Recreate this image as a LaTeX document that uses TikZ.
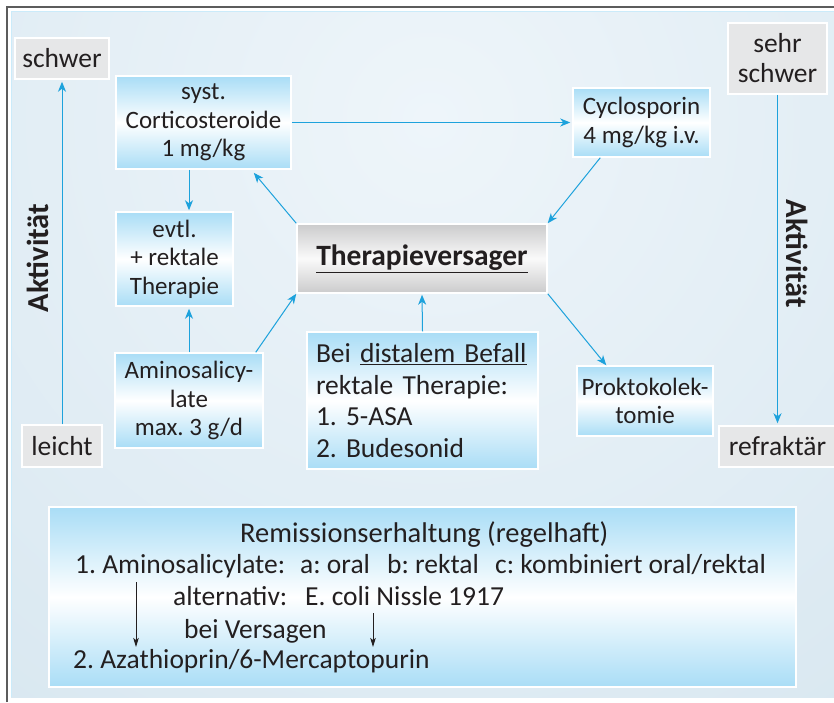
\documentclass[tikz,border=0pt]{standalone}
\usepackage{fontspec}
\setmainfont{Carlito}
\usetikzlibrary{arrows.meta,calc}
\frenchspacing
\definecolor{cblue}{HTML}{A9DDF6}
\definecolor{cgray}{HTML}{E6E7E8}
\definecolor{ctext}{HTML}{231F20}
\definecolor{cline}{HTML}{1DA2DC}
\definecolor{bgin}{HTML}{EEF5FA}
\definecolor{bgout}{HTML}{D3E4EE}
\definecolor{framec}{HTML}{5C5C5C}
\definecolor{tgray}{HTML}{CBCBCC}
\tikzset{
  bluebox/.style={draw=white, line width=1.5pt, top color=cblue, bottom color=cblue, middle color=white,
    text=ctext, align=center, inner sep=0pt, font=\fontsize{25}{28.5}\selectfont},
  graybox/.style={draw=white, line width=1.5pt, fill=cgray, text=ctext, align=center, inner sep=0pt,
    font=\fontsize{27.5}{30}\selectfont},
  arr/.style={draw=cline, line width=1pt, -{Stealth[length=10pt,width=8pt,inset=3pt]}},
  blackarr/.style={draw=ctext, line width=0.9pt, -{Stealth[length=9pt,width=5.5pt,inset=2pt]}},
  remtext/.style={anchor=base west, inner sep=0pt, text=ctext, font=\fontsize{27.5}{31}\selectfont},
}
\begin{document}
\begin{tikzpicture}[x=1pt,y=-1pt]
\useasboundingbox (0,0) rectangle (834,702);
\fill[white] (0,0) rectangle (834,702);
% panel
\begin{scope}
  \clip (11,11) rectangle (834,697);
  \shade[inner color=bgin, outer color=bgout] (430,120) circle (950);
\end{scope}
\draw[color=cblue!60!white, line width=0.8pt] (11,697) -- (11,11) -- (834,11);
\draw[framec, line width=1.5pt] (7,702) -- (7,7) -- (834,7);

% side boxes
\node[graybox, minimum width=94pt, minimum height=41pt] (schwer) at (62,58.5) {schwer};
\node[graybox, minimum width=80pt, minimum height=42pt] (leicht) at (62,446) {leicht};
\node[graybox, minimum width=99pt, minimum height=71pt] (sehr) at (777.5,58.5) {sehr\\schwer};
\node[graybox, minimum width=117pt, minimum height=41pt] (refr) at (777.5,446.5) {refraktär};
\node[rotate=90, text=ctext, inner sep=0pt, font=\bfseries\fontsize{30.5}{31}\selectfont] (aktl) at (38,258) {Aktivität};
\node[rotate=-90, text=ctext, inner sep=0pt, font=\bfseries\fontsize{30.5}{31}\selectfont] (aktr) at (797,254) {Aktivität};

% blue boxes
\node[bluebox, minimum width=175pt, minimum height=93pt] (cortico) at (203.5,122.5) {syst.\\Corticosteroide\\1 mg/kg};
\node[bluebox, minimum width=117pt, minimum height=94pt] (evtl) at (174.5,259) {evtl.\\+ rektale\\Therapie};
\node[bluebox, minimum width=148pt, minimum height=95pt] (amino) at (189,400.5) {Aminosalicy-\\late\\max. 3 g/d};
\node[bluebox, minimum width=137pt, minimum height=69pt] (cyclo) at (641.5,122.5) {Cyclosporin\\4 mg/kg i.v.};
\node[bluebox, minimum width=136pt, minimum height=70pt] (prokto) at (645,401) {Proktokolek-\\tomie};
\node[bluebox, minimum width=231pt, minimum height=137pt, align=left, text width=213pt, inner xsep=9pt,
      font=\fontsize{27.5}{31.5}\selectfont] (bei) at (422.5,400.5)
      {Bei \underline{distalem Befall}\\rektale Therapie:\\1. 5-ASA\\2. Budesonid};
\node[draw=white, line width=1.5pt, top color=tgray, bottom color=tgray, middle color=white!98!black,
      minimum width=250pt, minimum height=69pt, inner sep=0pt, text=ctext,
      font=\bfseries\fontsize{29.5}{32}\selectfont] (ther) at (422,258.5) {\underline{Therapieversager}};

% connectors
\draw[arr, shorten >=2pt] (leicht.north) -- (schwer.south);
\draw[arr, shorten >=2pt] (sehr.south) -- (refr.north);
\draw[arr, shorten >=2pt] (cortico.east) -- (cyclo.west);
\draw[arr, shorten >=1pt] (cortico.south -| amino.north) -- (evtl.north -| amino.north);
\draw[arr, shorten >=2pt] (amino.north) -- (evtl.south -| amino.north);
\draw[arr, shorten >=4pt] (ther.north west) -- ($(cortico.south west)+(136,0)$);
\draw[arr] ($(amino.north east)+(-8,0)$) -- (ther.south west);
\draw[arr] ($(cyclo.south west)+(28,0)$) -- (ther.north east);
\draw[arr] (ther.south east) -- ($(prokto.north west)+(30,0)$);
\draw[arr, shorten >=1pt] (bei.north) -- (ther.south);

% remission box
\node[draw=white, line width=1.5pt, top color=cblue, bottom color=cblue, middle color=white,
      minimum width=747pt, minimum height=180pt, inner sep=0pt] (rem) at (422.5,597) {};
\node[remtext, font=\fontsize{28.5}{31}\selectfont] (r1) at (240,542) {Remissionserhaltung (regelhaft)};
\node[remtext] (r2a) at (75,573) {1. Aminosalicylate:};
\node[remtext] (r2b) at (300,573) {a: oral};
\node[remtext] (r2c) at (387,573) {b: rektal};
\node[remtext] (r2d) at (495,573) {c: kombiniert oral/rektal};
\node[remtext] (r3a) at (173,605) {alternativ:};
\node[remtext] (r3b) at (305,605) {E. coli Nissle 1917};
\node[remtext] (r4) at (184,638) {bei Versagen};
\node[remtext] (r5) at (73,668) {2. Azathioprin/6-Mercaptopurin};
\coordinate (a1s) at (136,582);
\coordinate (a1e) at (136,647);
\coordinate (a2s) at (373,613);
\coordinate (a2e) at (373,647);
\draw[blackarr] (a1s) -- (a1e);
\draw[blackarr] (a2s) -- (a2e);
\end{tikzpicture}
\end{document}
